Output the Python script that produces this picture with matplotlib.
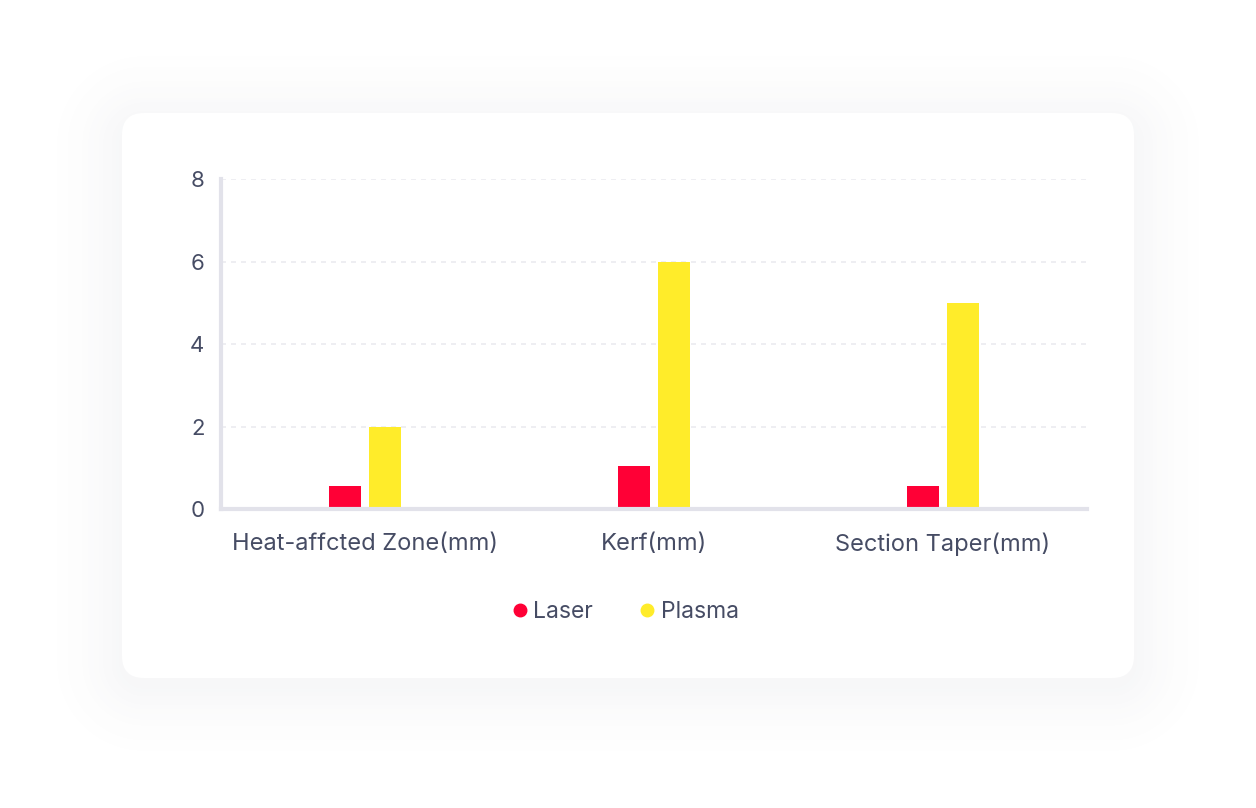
import numpy as np
import matplotlib
matplotlib.use('Agg')
import matplotlib.pyplot as plt
from matplotlib.patches import FancyBboxPatch
from matplotlib.lines import Line2D

plt.rcParams['font.family'] = ['Inter', 'DejaVu Sans']

categories = ['Heat-affcted Zone(mm)', 'Kerf(mm)', 'Section Taper(mm)']
laser = [0.55, 1.05, 0.55]
plasma = [2, 6, 5]
series_names = ['Laser', 'Plasma']
yticks = [0, 2, 4, 6, 8]

red = '#ff0036'
yellow = '#ffec2a'
text_col = '#464c64'

W, H = 1256, 808
fig = plt.figure(figsize=(W / 100, H / 100), dpi=100)
fig.patch.set_facecolor('white')

# soft shadow behind the card, drawn as an image
cx0, cx1, cy0, cy1, rad = 122, 1134, 113, 678, 22
yy, xx = np.mgrid[0:H, 0:W] + 0.5
sy = yy - 8
qx = np.abs(xx - (cx0 + cx1) / 2) - ((cx1 - cx0) / 2 - rad)
qy = np.abs(sy - (cy0 + cy1) / 2) - ((cy1 - cy0) / 2 - rad)
dist = np.hypot(np.maximum(qx, 0), np.maximum(qy, 0)) + np.minimum(np.maximum(qx, qy), 0) - rad
t = np.clip(dist / 90, 0, 1)
shade = 0.05 * (1 - t) ** 2
img = np.zeros((H, W, 4))
img[..., 0] = 90 / 255
img[..., 1] = 95 / 255
img[..., 2] = 125 / 255
img[..., 3] = shade
bg = fig.add_axes([0, 0, 1, 1], zorder=-3)
bg.imshow(img, extent=(0, W, H, 0), interpolation='bilinear')
bg.set_xlim(0, W)
bg.set_ylim(H, 0)
bg.axis('off')

card = FancyBboxPatch((cx0, cy0), cx1 - cx0, cy1 - cy0,
                      boxstyle='round,pad=0,rounding_size=%d' % rad,
                      facecolor='white', edgecolor='none', zorder=2)
bg.add_patch(card)

ax = fig.add_axes([0.176, 0.370, 0.6895, 0.4084])
ax.set_facecolor('none')
x = np.arange(len(categories))
w = 0.111
off = 0.069
ax.bar(x - off, laser, width=w, color=red, zorder=3)
ax.bar(x + off, plasma, width=w, color=yellow, zorder=3)

ax.set_xlim(-0.5, 2.5)
ax.set_ylim(0, 8)
ax.set_yticks(yticks)
ax.set_xticks(x)
ax.tick_params(axis='both', length=0, labelcolor=text_col)
ax.tick_params(axis='x', pad=17, labelsize=17)
ax.tick_params(axis='y', pad=12, labelsize=16)
ax.set_xticklabels(categories)
ax.yaxis.grid(True, color='#ebebf0', linestyle=(0, (3, 3)), linewidth=1.2)
ax.set_axisbelow(True)
for s in ['top', 'right']:
    ax.spines[s].set_visible(False)
for s in ['left', 'bottom']:
    ax.spines[s].set_color('#e2e2ea')
    ax.spines[s].set_linewidth(3)
    ax.spines[s].set_zorder(4)

handles = [Line2D([], [], marker='o', linestyle='none', color=c, markersize=9)
           for c in [red, yellow]]
leg = fig.legend(handles, series_names, loc='center', bbox_to_anchor=(0.4965, 0.2426),
                 ncol=2, frameon=False, fontsize=16.5, handletextpad=0.1,
                 columnspacing=1.85, handlelength=1.0)
for t in leg.get_texts():
    t.set_color(text_col)

fig.savefig('out.png', dpi=100)
